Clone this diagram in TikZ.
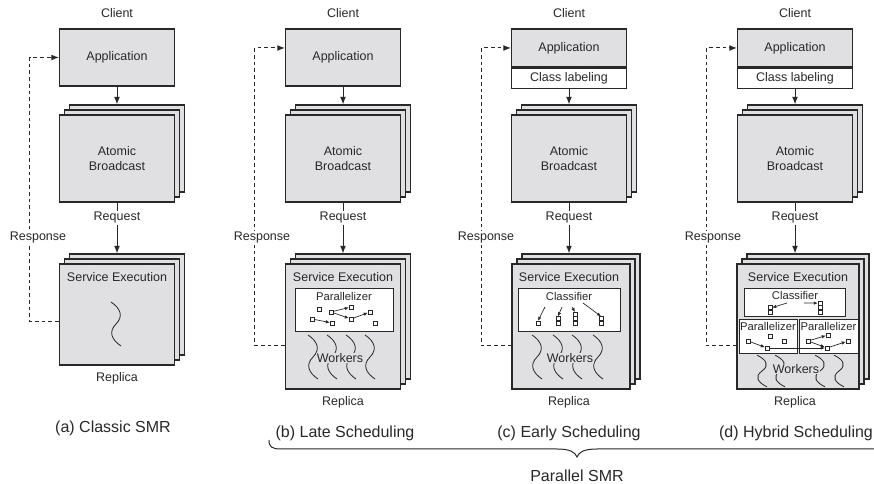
\documentclass[tikz,border=0pt]{standalone}
\usepackage{fontspec}
\setmainfont{Liberation Sans}
\usetikzlibrary{
  arrows.meta,
  positioning,
  shadows}
\definecolor{ink}{RGB}{40,40,40}
\definecolor{boxgray}{RGB}{224,224,226}
\tikzset{
  lbl/.style={inner sep=1pt},
  tinytext/.style={font=\fontsize{9}{10}\selectfont, inner sep=1pt},
  subcap/.style={font=\fontsize{12.8}{15}\selectfont},
  appbox/.style={draw=ink, line width=0.9pt, fill=boxgray, inner sep=0pt, minimum width=92pt},
  classbox/.style={draw=ink, line width=0.9pt, fill=white, inner sep=0pt, minimum width=92pt},
  stackbox/.style={appbox, double copy shadow={shadow xshift=4pt, shadow yshift=4pt}},
  innerbox/.style={draw=ink, line width=0.75pt, fill=white, inner sep=0pt},
  flow/.style={draw=ink, line width=0.8pt, -{Latex[length=6pt,width=4.6pt]}},
  resp/.style={flow, dash pattern=on 3pt off 2.4pt},
  task/.style={draw=ink, line width=0.55pt, fill=white, minimum size=3pt, inner sep=0pt},
  dep/.style={draw=ink, line width=0.55pt, -{Latex[length=3.2pt,width=2.8pt]}},
  thread/.pic={
    \draw[ink, line width=0.65pt] (-5,-22) .. controls (4,-16) and (8,-8) .. (0,0)
      .. controls (-8,8) and (-4,16) .. (5,22);}
}

\begin{document}
\begin{tikzpicture}[x=0.8pt, y=-0.8pt, text=ink, font=\fontsize{10}{12}\selectfont]
\useasboundingbox (0,0) rectangle (874,484);

% (a) classic SMR
\begin{scope}[shift={(117,0)}]
  \node[lbl] (clientA) at (0,13) {Client};
  \node[appbox, minimum height=45.6pt] (appA) at (0,57.5) {Application};
  \node[stackbox, align=center, minimum height=69.6pt] (abA) at (0,158.5) {Atomic\\Broadcast};
  \node[stackbox, minimum height=80.8pt] (svcA) at (0,314.5) {};
  \node[lbl] (seA) at (0,277) {Service Execution};
  \pic at (-1,324) {thread};
  \node[lbl] (repA) at (0,378) {Replica};
  \draw[flow] (appA) -- ([yshift=8pt]abA.north);
  \draw[flow] (abA) -- node[pos=0.3, fill=white, lbl] (reqA) {Request} ([yshift=8pt]svcA.north);
  \draw[resp] ([yshift=-6pt]svcA.west) -- ++(-29,0) |- (appA.west);
  \node[lbl, fill=white] (rspA) at (-79,238) {Response};
  \node[subcap] (capA) at (-4,428) {(a) Classic SMR};
\end{scope}

% (b) late scheduling
\begin{scope}[shift={(343,0)}]
  \node[lbl] (clientB) at (0,13) {Client};
  \node[appbox, minimum height=45.6pt] (appB) at (0,57.5) {Application};
  \node[stackbox, align=center, minimum height=69.6pt] (abB) at (0,158.5) {Atomic\\Broadcast};
  \node[stackbox, minimum height=100pt] (svcB) at (0,326.5) {};
  \node[lbl] (seB) at (0,277) {Service Execution};
  \node[innerbox, minimum width=78.4pt, minimum height=34.4pt] (parB) at (1,309.5) {};
  \node[tinytext] (parTxtB) at (1,296) {Parallelizer};
  \node[task] (tB1) at (-31,319) {};
  \node[task] (tB2) at (-24,309) {};
  \node[task] (tB3) at (-12,312) {};
  \node[task] (tB4) at (-11,323) {};
  \node[task] (tB5) at (8,307) {};
  \node[task] (tB6) at (8,319) {};
  \node[task] (tB7) at (27,312) {};
  \node[task] (tB8) at (32,323) {};
  \draw[dep] (tB1) -- (tB4);
  \draw[dep] (tB3) -- (tB5);
  \draw[dep] (tB3) -- (tB6);
  \draw[dep] (tB6) -- (tB7);
  \foreach \tx in {-30,-11,8,27} \pic at (\tx,357) {thread};
  \node[lbl, fill=boxgray, inner sep=0.5pt] (wrkB) at (-3,358) {Workers};
  \node[lbl] (repB) at (0,402) {Replica};
  \draw[flow] (appB) -- ([yshift=8pt]abB.north);
  \draw[flow] (abB) -- node[pos=0.3, fill=white, lbl] (reqB) {Request} ([yshift=8pt]svcB.north);
  \draw[resp] ([yshift=-15.6pt]svcB.west) -- ++(-30,0) |- ([yshift=7.6pt]appB.west);
  \node[lbl, fill=white] (rspB) at (-81,238) {Response};
  \node[subcap] (capB) at (2,433) {(b) Late Scheduling};
\end{scope}

% (c) early scheduling
\begin{scope}[shift={(569,0)}]
  \node[lbl] (clientC) at (0,13) {Client};
  \node[appbox, minimum height=30.4pt] (appC) at (0,48) {Application};
  \node[classbox, minimum height=16pt, below=0pt of appC] (clsLabC) {Class labeling};
  \node[stackbox, align=center, minimum height=69.6pt] (abC) at (0,158.5) {Atomic\\Broadcast};
  \node[stackbox, minimum width=94.4pt, minimum height=100pt] (svcC) at (2,326.5) {};
  \node[lbl] (seC) at (0,277) {Service Execution};
  \node[innerbox, minimum width=81.6pt, minimum height=34.4pt] (clfC) at (0,309.5) {};
  \node[tinytext] (clfTxtC) at (0,296) {Classifier};
  % queues, one per class
  \node[task] (qC1a) at (-31,323) {};
  \node[task] (qC2a) at (-11,323) {};
  \node[task, above=0pt of qC2a] (qC2b) {};
  \node[task] (qC3a) at (6,323) {};
  \node[task, above=0pt of qC3a] (qC3b) {};
  \node[task, above=0pt of qC3b] (qC3c) {};
  \node[task] (qC4a) at (32,323) {};
  \node[task, above=0pt of qC4a] (qC4b) {};
  \draw[dep] ([shift={(-24,11)}]clfTxtC.center) -- (qC1a.north);
  \draw[dep] ([shift={(-7,11)}]clfTxtC.center) -- (qC2b.north);
  \draw[dep] ([shift={(3,11)}]clfTxtC.center) -- (qC3c.north);
  \draw[dep] ([shift={(14,7)}]clfTxtC.center) -- (qC4b.north);
  \foreach \tx in {-32,-11,8,29} \pic at (\tx,357) {thread};
  \node[lbl, fill=boxgray, inner sep=0.5pt] (wrkC) at (1,358) {Workers};
  \node[lbl] (repC) at (0,402) {Replica};
  \draw[flow] (clsLabC) -- ([yshift=8pt]abC.north);
  \draw[flow] (abC) -- node[pos=0.3, fill=white, lbl] (reqC) {Request} ([yshift=8pt]abC.south |- svcC.north);
  \draw[resp] ([yshift=-15.6pt]svcC.west) -- ++(-30,0) |- (appC.west);
  \node[lbl, fill=white] (rspC) at (-83,238) {Response};
  \node[subcap] (capC) at (0,433) {(c) Early Scheduling};
\end{scope}

% (d) hybrid scheduling
\begin{scope}[shift={(795,0)}]
  \node[lbl] (clientD) at (0,13) {Client};
  \node[appbox, minimum height=30.4pt] (appD) at (0,48) {Application};
  \node[classbox, minimum height=16pt, below=0pt of appD] (clsLabD) {Class labeling};
  \node[stackbox, align=center, minimum height=69.6pt] (abD) at (0,158.5) {Atomic\\Broadcast};
  \node[stackbox, minimum width=97.6pt, minimum height=100pt] (svcD) at (3,326.5) {};
  \node[lbl] (seD) at (3,277) {Service Execution};
  \foreach \tx in {-33,-15,25,44} \pic[yscale=0.72] at (\tx,371) {thread};
  \node[lbl, fill=boxgray, inner sep=0.5pt] (wrkD) at (1,369) {Workers};
  \node[innerbox, minimum width=80.8pt, minimum height=22.4pt] (clfD) at (-0.5,302) {};
  \node[tinytext] (clfTxtD) at (0,295) {Classifier};
  \node[task] (qD1a) at (-25,312) {};
  \node[task, above=0pt of qD1a] (qD1b) {};
  \node[task] (qD2a) at (25,312) {};
  \node[task, above=0pt of qD2a] (qD2b) {};
  \node[task, above=0pt of qD2b] (qD2c) {};
  \draw[dep] ([shift={(-8,8)}]clfTxtD.center) -- (qD1b.east);
  \draw[dep] ([shift={(9,8)}]clfTxtD.center) -- (qD2c.west);
  % one parallelizer per class
  \node[innerbox, minimum width=46.4pt, minimum height=27.2pt] (parD1) at (-27,336) {};
  \node[innerbox, minimum width=47.2pt, minimum height=27.2pt] (parD2) at (33.5,336) {};
  \node[tinytext] (parTxtD1) at (-27,326) {Parallelizer};
  \node[tinytext] (parTxtD2) at (33.5,326) {Parallelizer};
  \node[task] (tDL1) at (-47,341) {};
  \node[task] (tDL2) at (-25,336) {};
  \node[task] (tDL3) at (-11,341) {};
  \node[task] (tDL4) at (-28,348) {};
  \node[task] (tDR1) at (13,341) {};
  \node[task] (tDR2) at (33,335) {};
  \node[task] (tDR3) at (32,348) {};
  \node[task] (tDR4) at (53,341) {};
  \draw[dep] (tDL1) -- (tDL4);
  \draw[dep] (tDR1) -- (tDR2);
  \draw[dep] (tDR1) -- (tDR3);
  \draw[dep] (tDR3) -- (tDR4);
  \draw[dep] (tDL4) -- (tDR3);
  \node[lbl] (repD) at (0,402) {Replica};
  \draw[flow] (clsLabD) -- ([yshift=8pt]abD.north);
  \draw[flow] (abD) -- node[pos=0.3, fill=white, lbl] (reqD) {Request} ([yshift=8pt]abD.south |- svcD.north);
  \draw[resp] ([yshift=-15.6pt]svcD.west) -- ++(-30,0) |- (appD.west);
  \node[lbl, fill=white] (rspD) at (-82,238) {Response};
  \node[subcap] (capD) at (1,433) {(d) Hybrid Scheduling};
\end{scope}

% brace over the three parallel variants
\draw[ink, line width=0.8pt] (269,440) .. controls (269,447) and (272,449) .. (281,449)
  -- (557,449) .. controls (570,449) and (575,452) .. (577,457)
  .. controls (579,452) and (584,449) .. (597,449) -- (874,449);
\node[subcap] (parSMR) at (577,476) {Parallel SMR};
\end{tikzpicture}
\end{document}
